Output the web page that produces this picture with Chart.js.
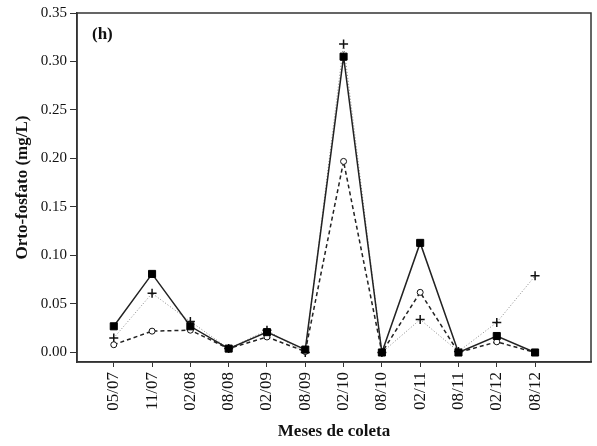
<!DOCTYPE html>
<html>
<head>
<meta charset="utf-8">
<script src="https://cdn.jsdelivr.net/npm/chart.js@4/dist/chart.umd.min.js"></script>
<style>
  html, body { margin: 0; padding: 0; background: #fff; }
  #wrap { width: 597px; height: 446px; }
</style>
</head>
<body>
<div id="wrap"><canvas id="c" width="597" height="446"></canvas></div>
<script>
// Sampling dates (month/year)
const months = ['05/07','11/07','02/08','08/08','02/09','08/09','02/10','08/10','02/11','08/11','02/12','08/12'];
// Orthophosphate (mg/L) for the three series
const squareSeries = [0.027, 0.081, 0.027, 0.004, 0.021, 0.003, 0.305, 0.000, 0.113, 0.000, 0.017, 0.000];
const circleSeries = [0.008, 0.022, 0.023, 0.004, 0.016, 0.001, 0.197, 0.000, 0.062, 0.000, 0.011, 0.000];
const plusSeries   = [0.015, 0.061, 0.032, 0.004, 0.023, 0.000, 0.318, 0.000, 0.034, 0.001, 0.031, 0.079];
// Y axis tick values
const yTicks = [0.00, 0.05, 0.10, 0.15, 0.20, 0.25, 0.30, 0.35];

const toPoints = arr => arr.map((v, i) => ({ x: i, y: v }));
const serif = "'Liberation Serif', 'Times New Roman', serif";

// Frame around the plot area and the panel letter
const framePlugin = {
  id: 'frame',
  afterDraw(chart) {
    const { ctx, chartArea: a } = chart;
    ctx.save();
    ctx.strokeStyle = '#333';
    ctx.lineWidth = 1.5;
    ctx.strokeRect(a.left, a.top, a.right - a.left, a.bottom - a.top);
    ctx.fillStyle = '#111';
    ctx.font = "bold 17px " + serif;
    ctx.textBaseline = 'middle';
    ctx.textAlign = 'left';
    ctx.fillText('(h)', a.left + 15, a.top + 22);
    ctx.restore();
  }
};

new Chart(document.getElementById('c'), {
  type: 'line',
  data: {
    datasets: [
      {
        data: toPoints(squareSeries),
        borderColor: '#222',
        borderWidth: 1.5,
        pointStyle: 'rect',
        pointRadius: 5,
        pointBackgroundColor: '#000',
        pointBorderColor: '#000',
        pointBorderWidth: 1,
        tension: 0
      },
      {
        data: toPoints(circleSeries),
        borderColor: '#222',
        borderWidth: 1.5,
        borderDash: [4, 3],
        pointStyle: 'circle',
        pointRadius: 3,
        pointBackgroundColor: '#fff',
        pointBorderColor: '#111',
        pointBorderWidth: 1,
        tension: 0
      },
      {
        data: toPoints(plusSeries),
        borderColor: '#888',
        borderWidth: 1,
        borderDash: [1, 2],
        pointStyle: 'cross',
        pointRadius: 4.5,
        pointBorderColor: '#111',
        pointBorderWidth: 1.5,
        tension: 0
      }
    ]
  },
  options: {
    responsive: false,
    animation: false,
    layout: { padding: { top: 13, right: 4, left: 0, bottom: 0 } },
    plugins: { legend: { display: false }, tooltip: { enabled: false } },
    scales: {
      x: {
        type: 'linear',
        min: -0.96,
        max: 12.46,
        afterBuildTicks: s => { s.ticks = months.map((_, i) => ({ value: i })); },
        afterFit: s => { s.height = 84; },
        ticks: {
          callback: v => months[v],
          minRotation: 90,
          maxRotation: 90,
          padding: 5,
          color: '#111',
          font: { family: serif, size: 17 }
        },
        grid: { drawOnChartArea: false, drawTicks: true, tickLength: 5, color: '#333', lineWidth: 1 },
        border: { display: true, color: '#333', width: 1.5 },
        title: {
          display: true,
          text: 'Meses de coleta',
          color: '#111',
          font: { family: serif, size: 17, weight: 'bold' },
          padding: { top: 0, bottom: 4 }
        }
      },
      y: {
        min: -0.0098,
        max: 0.35,
        afterBuildTicks: s => { s.ticks = yTicks.map(v => ({ value: v })); },
        afterFit: s => { s.width = 77; },
        ticks: {
          callback: v => v.toFixed(2),
          padding: 3,
          color: '#111',
          font: { family: serif, size: 15 }
        },
        grid: { drawOnChartArea: false, drawTicks: true, tickLength: 7, color: '#333', lineWidth: 1 },
        border: { display: true, color: '#333', width: 1.5 },
        title: {
          display: true,
          text: 'Orto-fosfato (mg/L)',
          color: '#111',
          font: { family: serif, size: 17, weight: 'bold' },
          padding: { top: 12, bottom: 0 }
        }
      }
    }
  },
  plugins: [framePlugin]
});
</script>
</body>
</html>
